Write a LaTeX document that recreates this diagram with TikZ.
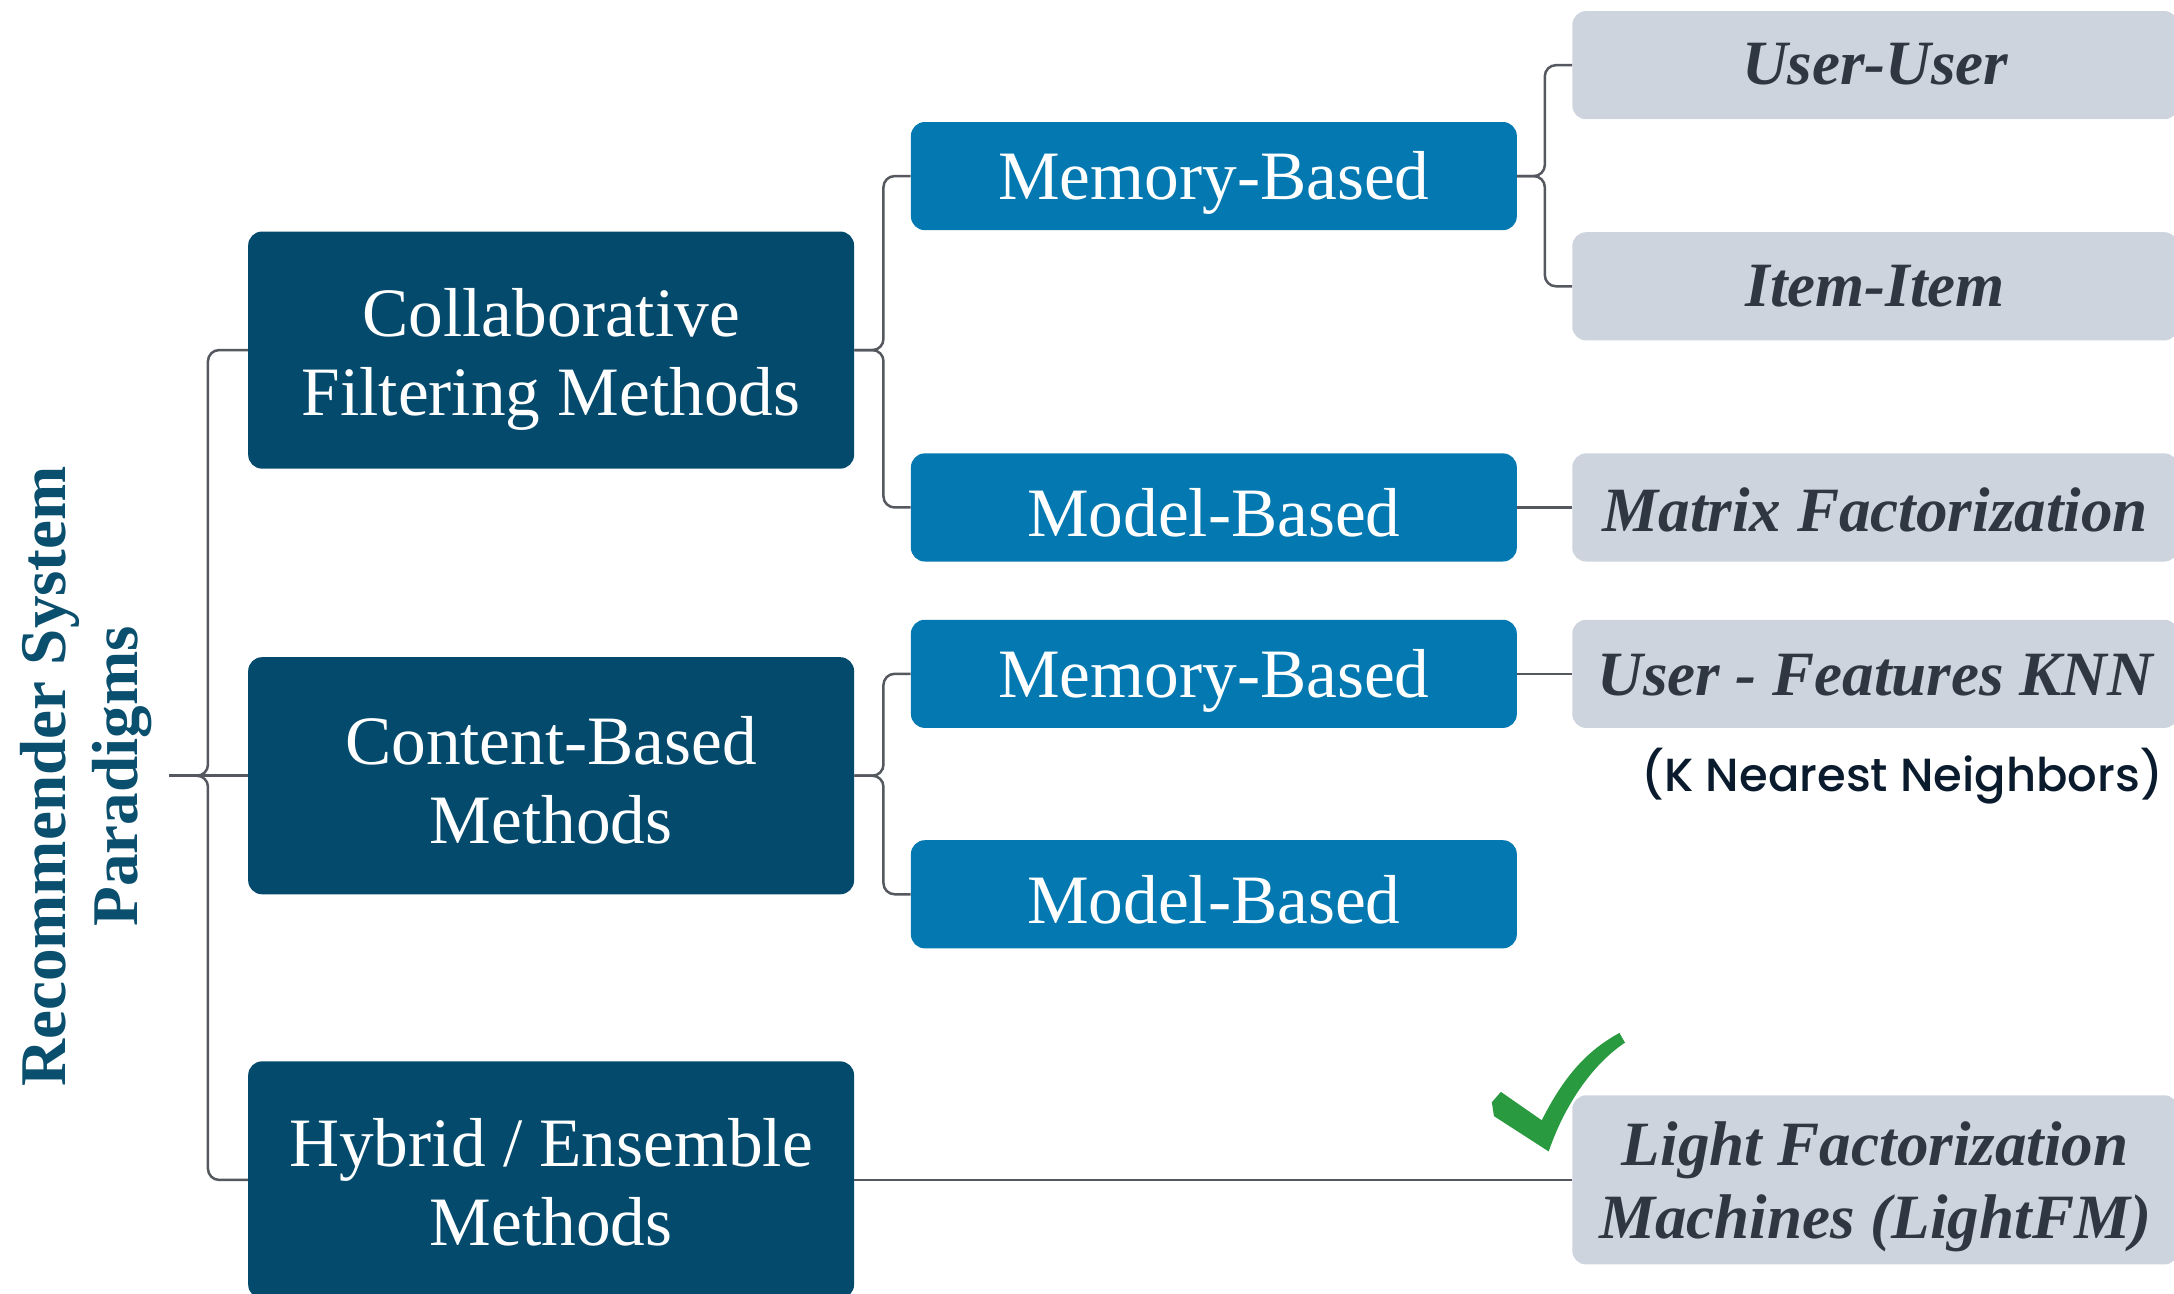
\documentclass[tikz,border=0pt]{standalone}
\usepackage{fontspec}
\setmainfont{Liberation Serif}
\newfontfamily\notefont{Poppins Medium}
\definecolor{darkbox}{HTML}{034A6C}
\definecolor{midblue}{HTML}{0479B1}
\definecolor{lgray}{HTML}{CDD4DD}
\definecolor{gtext}{HTML}{2F3742}
\definecolor{linegray}{HTML}{55585E}
\definecolor{titlecol}{HTML}{0B4F6E}
\definecolor{notecol}{HTML}{0A1B2E}
\definecolor{checkgreen}{HTML}{2A9A40}
\begin{document}
\begin{tikzpicture}[x=1pt,y=-1pt]
\tikzset{
  boxbase/.style={rectangle, rounded corners=10pt, minimum width=437pt, inner sep=0pt},
  darkbox/.style={boxbase, fill=darkbox, minimum height=171pt},
  bluebox/.style={boxbase, fill=midblue, minimum height=78pt},
  graybox/.style={boxbase, fill=lgray, minimum height=78pt},
  whitetext/.style={text=white, inner sep=0pt, align=center, font=\fontsize{50}{57}\selectfont},
  graytext/.style={text=gtext, inner sep=0pt, align=center, font=\fontsize{45.5}{53}\selectfont\bfseries\itshape},
  link/.style={draw=linegray, line width=1.8pt, rounded corners=8pt},
}
\clip (0,0) rectangle (1568,933);

\node[darkbox] (cf) at (397.5,252.5) {};
\node[whitetext] (cft) at ([yshift=-7pt]cf.center) {Collaborative\\Filtering Methods};
\node[darkbox] (cb) at (397.5,559.5) {};
\node[whitetext] (cbt) at ([yshift=-3pt]cb.center) {Content-Based\\Methods};
\node[darkbox] (hy) at (397.5,851) {};
\node[whitetext] (hyt) at ([yshift=-2pt]hy.center) {Hybrid / Ensemble\\Methods};

\node[bluebox] (mb1) at (875.5,127) {};
\node[whitetext] (mb1t) at ([yshift=-5pt]mb1.center) {Memory-Based};
\node[bluebox] (md1) at (875.5,366) {};
\node[whitetext] (md1t) at ([yshift=-4pt]md1.center) {Model-Based};
\node[bluebox] (mb2) at (875.5,486) {};
\node[whitetext] (mb2t) at ([yshift=-5pt]mb2.center) {Memory-Based};
\node[bluebox] (md2) at (875.5,645) {};
\node[whitetext] (md2t) at ([yshift=-4pt]md2.center) {Model-Based};

\node[graybox] (uu) at (1352.5,47) {};
\node[graytext] (uut) at ([yshift=1pt]uu.center) {User-User};
\node[graybox] (ii) at (1352.5,206.5) {};
\node[graytext] (iit) at (ii.center) {Item-Item};
\node[graybox] (mf) at (1352.5,366) {};
\node[graytext] (mft) at ([yshift=-2pt]mf.center) {Matrix Factorization};
\node[graybox] (knn) at (1352.5,486) {};
\node[graytext] (knnt) at ([yshift=-1pt]knn.center) {User - Features KNN};
\node[graybox, minimum height=122pt] (lfm) at (1352.5,851) {};
\node[graytext] (lfmt) at ([yshift=-5pt]lfm.center) {Light Factorization\\Machines (LightFM)};

\node[rotate=90, text=titlecol, align=center, inner sep=0pt,
  font=\fontsize{47}{52}\selectfont\bfseries] (title) at (62,560) {Recommender System\\Paradigms};

\node[text=notecol, inner sep=0pt, font=\notefont\fontsize{33.5}{40}\selectfont] (note) at (1372,560) {(K Nearest Neighbors)};

\coordinate (root) at (122,559.5);
\draw[link] (root) -- (cb.west);
\draw[link] (root) -- ++(28,0) |- (cf.west);
\draw[link] (root) -- ++(28,0) |- (hy.west);

\draw[link] (cf.east) -- ++(21,0) |- (mb1.west);
\draw[link] (cf.east) -- ++(21,0) |- (md1.west);
\draw[link] (cb.east) -- ++(21,0) |- (mb2.west);
\draw[link] (cb.east) -- ++(21,0) |- (md2.west);

\draw[link] (mb1.east) -- ++(20,0) |- (uu.west);
\draw[link] (mb1.east) -- ++(20,0) |- (ii.west);
\draw[link] (md1.east) -- (mf.west);
\draw[link] (mb2.east) -- (knn.west);
\draw[link] (hy.east) -- (lfm.west);

\fill[checkgreen] (1082.5,787.5) -- (1112,808)
  .. controls (1130,772) and (1148,756) .. (1168,745)
  -- (1172,752)
  .. controls (1148,768) and (1128,798) .. (1117,830.5)
  -- (1077.5,805) -- (1076,795) -- cycle;
\end{tikzpicture}
\end{document}
